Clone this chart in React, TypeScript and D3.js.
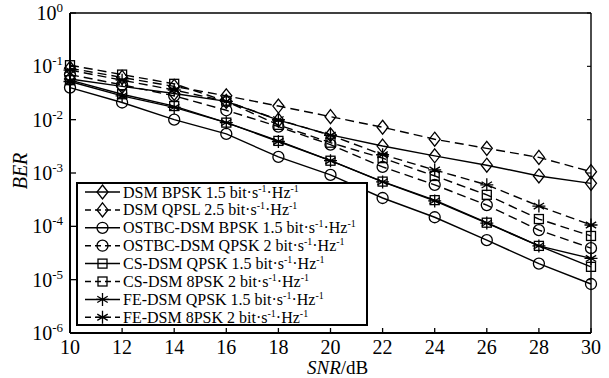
import React from "react";
import * as d3 from "d3";

const snr = [10, 12, 14, 16, 18, 20, 22, 24, 26, 28, 30];

const dsmBpsk = [0.058, 0.042, 0.031, 0.022, 0.0098, 0.0052, 0.0032, 0.0021, 0.0014, 0.00088, 0.00064];
const dsmQpsl = [0.092, 0.062, 0.042, 0.028, 0.018, 0.0114, 0.0072, 0.0043, 0.0029, 0.00196, 0.00106];
const ostbcBpsk = [0.04, 0.021, 0.01, 0.0054, 0.002, 0.00092, 0.00034, 0.000148, 0.000055, 0.00002, 0.0000083];
const ostbcQpsk = [0.07, 0.045, 0.028, 0.015, 0.0074, 0.0034, 0.0013, 0.0006, 0.00025, 0.000085, 0.000039];
const csQpsk = [0.055, 0.03, 0.018, 0.0088, 0.004, 0.0017, 0.00069, 0.00031, 0.000117, 0.000043, 0.0000174];
const cs8psk = [0.105, 0.07, 0.047, 0.022, 0.008, 0.0037, 0.0019, 0.00088, 0.00039, 0.000137, 0.000066];
const feQpsk = [0.052, 0.028, 0.017, 0.0088, 0.0039, 0.0017, 0.00068, 0.0003, 0.000115, 0.000043, 0.000025];
const fe8psk = [0.085, 0.055, 0.036, 0.022, 0.01, 0.0051, 0.0022, 0.00114, 0.0006, 0.00024, 0.000106];

const seriesLabels = [
  "DSM BPSK 1.5",
  "DSM QPSL 2.5",
  "OSTBC-DSM BPSK 1.5",
  "OSTBC-DSM QPSK 2",
  "CS-DSM QPSK 1.5",
  "CS-DSM 8PSK 2",
  "FE-DSM QPSK 1.5",
  "FE-DSM 8PSK 2",
];
const seriesValues = [dsmBpsk, dsmQpsl, ostbcBpsk, ostbcQpsk, csQpsk, cs8psk, feQpsk, fe8psk];
const seriesMarkers = ["diamond", "diamond", "circle", "circle", "square", "square", "star", "star"];
const seriesDashed = [false, true, false, true, false, true, false, true];

const xTicks = [10, 12, 14, 16, 18, 20, 22, 24, 26, 28, 30];
const yExponents = [0, -1, -2, -3, -4, -5, -6];

const FONT = "'Liberation Serif', 'Times New Roman', serif";

function Marker({ type, x, y }: { type: string; x: number; y: number }) {
  const sw = 1.3;
  if (type === "diamond") {
    const h = 7, w = 5.5;
    return (
      <path
        d={`M${x},${y - h}L${x + w},${y}L${x},${y + h}L${x - w},${y}Z`}
        fill="none"
        stroke="#000"
        strokeWidth={sw}
      />
    );
  }
  if (type === "circle") {
    return <circle cx={x} cy={y} r={5.5} fill="none" stroke="#000" strokeWidth={sw} />;
  }
  if (type === "square") {
    const s = 4.5;
    return <rect x={x - s} y={y - s} width={2 * s} height={2 * s} fill="none" stroke="#000" strokeWidth={sw} />;
  }
  const r = 6.5;
  const a = r * 0.8;
  return (
    <path
      d={`M${x},${y - r}L${x},${y + r}M${x - r},${y}L${x + r},${y}M${x - a},${y - a * 0.6}L${x + a},${y + a * 0.6}M${x - a},${y + a * 0.6}L${x + a},${y - a * 0.6}`}
      fill="none"
      stroke="#000"
      strokeWidth={sw}
    />
  );
}

function Unit() {
  return (
    <>
      <tspan> bit·s</tspan>
      <tspan fontSize={10} dy={-6}>-1</tspan>
      <tspan dy={6}>·Hz</tspan>
      <tspan fontSize={10} dy={-6}>-1</tspan>
    </>
  );
}

export default function App() {
  const W = 609, H = 378;
  const left = 70, right = 591, top = 13, bottom = 333;
  const x = d3.scaleLinear().domain([10, 30]).range([left, right]);
  const y = d3.scaleLog().domain([1e-6, 1]).range([bottom, top]);
  const line = d3
    .line<number>()
    .x((_, i) => x(snr[i]))
    .y((d) => y(d));

  const legX = 77, legY = 183, legW = 290, legH = 142;
  const rowY0 = 192, rowStep = 17.9;

  return (
    <svg width={W} height={H} style={{ position: "absolute", left: 0, top: 0, background: "#fff" }} fontFamily={FONT}>
      <rect x={0} y={0} width={W} height={H} fill="#fff" />
      {seriesValues.map((vals, si) => (
        <path
          key={"l" + si}
          d={line(vals) || ""}
          fill="none"
          stroke="#000"
          strokeWidth={1.4}
          strokeDasharray={seriesDashed[si] ? "9,5" : undefined}
        />
      ))}
      {seriesValues.map((vals, si) =>
        vals.map((v, i) => <Marker key={"m" + si + "_" + i} type={seriesMarkers[si]} x={x(snr[i])} y={y(v)} />)
      )}
      <line x1={left} y1={top} x2={right} y2={top} stroke="#000" strokeWidth={1.6} />
      <line x1={right} y1={top} x2={right} y2={bottom} stroke="#000" strokeWidth={1.4} />
      <line x1={left} y1={top} x2={left} y2={bottom} stroke="#000" strokeWidth={2} />
      <line x1={left} y1={bottom} x2={right} y2={bottom} stroke="#000" strokeWidth={2} />
      {xTicks.map((t) => (
        <g key={"xt" + t}>
          <line x1={x(t)} x2={x(t)} y1={bottom} y2={bottom - 5} stroke="#000" strokeWidth={1.3} />
          <text x={x(t)} y={354} textAnchor="middle" fontSize={20}>
            {t}
          </text>
        </g>
      ))}
      {yExponents.map((e) => {
        const yy = y(Math.pow(10, e));
        return (
          <g key={"yt" + e}>
            <line x1={left} x2={left + 6} y1={yy} y2={yy} stroke="#000" strokeWidth={1.3} />
            <line x1={right} x2={right - 4} y1={yy} y2={yy} stroke="#000" strokeWidth={1.1} />
            <text x={63} y={yy + 7} textAnchor="end" fontSize={20}>
              <tspan>10</tspan>
              <tspan fontSize={13} dy={-8}>{e === 0 ? "0" : "-" + Math.abs(e)}</tspan>
            </text>
          </g>
        );
      })}
      <text x={307} y={374} fontSize={19}>
        <tspan fontStyle="italic">SNR</tspan>
        <tspan>/dB</tspan>
      </text>
      <text transform="translate(27,171) rotate(-90)" textAnchor="middle" fontSize={20} fontStyle="italic">
        BER
      </text>
      <rect x={legX} y={legY} width={legW} height={legH} fill="#fff" stroke="#000" strokeWidth={2} />
      {seriesLabels.map((lab, si) => {
        const ry = rowY0 + si * rowStep;
        return (
          <g key={"lg" + si}>
            <line
              x1={85}
              x2={120}
              y1={ry}
              y2={ry}
              stroke="#000"
              strokeWidth={1.5}
              strokeDasharray={seriesDashed[si] ? "6,4" : undefined}
            />
            <Marker type={seriesMarkers[si]} x={102.5} y={ry} />
            <text x={123} y={ry + 5.5} fontSize={16}>
              <tspan>{lab}</tspan>
              <Unit />
            </text>
          </g>
        );
      })}
    </svg>
  );
}
